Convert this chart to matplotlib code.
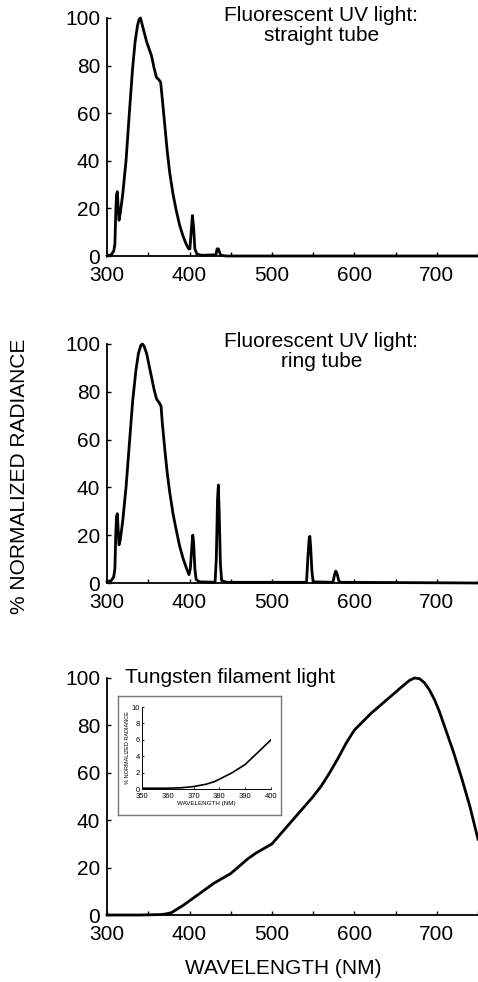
import matplotlib
matplotlib.use("Agg")
import matplotlib.pyplot as plt

plt.rcParams['font.family'] = ['Liberation Sans', 'DejaVu Sans']

# straight tube spectrum (nm, % radiance)
straight_nm = [300, 305, 308, 309.5, 310.5, 311.5, 312.5, 313.5, 314.5, 316, 319, 323,
               327, 331, 334, 337, 339, 340.5, 342, 345, 348, 351, 354, 357, 360,
               363, 365, 367, 370, 373, 376, 380, 384, 388, 392, 396, 399, 400.5,
               402, 403.5, 405, 406.5, 409, 415, 432, 433.5, 435, 436.5, 438, 445, 750]
straight_val = [0, 0.5, 2, 5, 18, 26, 27, 20, 15, 18, 26, 40,
                60, 79, 90, 97, 99.5, 100, 98, 94, 90, 87, 84, 79, 75,
                74, 73, 66, 55, 44, 35, 26, 19, 13, 8.5, 5, 3, 3,
                10, 17, 12, 3, 0.8, 0.3, 0.5, 3, 3, 1.5, 0.3, 0, 0]

# ring tube spectrum
ring_nm = [300, 305, 308, 309.5, 310.5, 311.5, 312.5, 313.5, 314.5, 316, 319, 323,
           327, 331, 335, 338, 341, 343, 345, 348, 351, 354, 357, 360, 362, 364,
           365.5, 367, 370, 373, 376, 380, 384, 388, 392, 396, 399.4, 401, 403,
           404, 405, 406.5, 408, 412, 431, 432.5, 434, 435, 436, 437.5, 439, 445,
           542, 543.5, 545, 546, 547, 548.5, 550, 574, 576, 577.5, 579, 581, 583, 750]
ring_val = [0.5, 1, 2.5, 6, 20, 28, 29, 22, 16, 18, 26, 40,
            58, 76, 89, 96, 99.5, 100, 99, 96, 91, 86, 81, 77, 76, 75,
            74, 67, 56, 46, 38, 29, 22, 15.5, 10.5, 6.5, 3.5, 6, 16,
            20, 17, 6, 1.5, 0.5, 0.3, 10, 35, 41, 30, 8, 1, 0.3,
            0.3, 10, 18, 19.5, 15, 5, 0.5, 0.3, 3.5, 5, 4, 1, 0.3, 0]

# tungsten filament spectrum
tung_nm = [300, 340, 365, 372, 378, 385, 392, 400, 410, 420, 430, 440, 450, 460,
           470, 480, 490, 500, 510, 520, 530, 540, 550, 560, 570, 580, 590, 600,
           610, 620, 630, 640, 650, 660, 667, 673, 679, 685, 691, 697, 703, 710,
           720, 730, 740, 750]
tung_val = [0, 0, 0.2, 0.5, 1, 2.5, 4, 6, 8.5, 11, 13.5, 15.5, 17.5, 20.5,
            23.5, 26, 28, 30, 34, 38, 42, 46, 50, 54.5, 60, 66, 72.5, 78,
            81.5, 85, 88, 91, 94, 97, 99, 100, 99.7, 98, 95, 91, 86, 79,
            69, 58, 46, 32]

# inset: tungsten 350-400 nm
inset_nm = [350, 355, 360, 365, 370, 375, 378, 380, 385, 390, 395, 400]
inset_val = [0.1, 0.1, 0.1, 0.15, 0.3, 0.6, 0.9, 1.2, 2.0, 3.0, 4.5, 6.0]

x_ticks = [300, 400, 500, 600, 700]
y_ticks = [0, 20, 40, 60, 80, 100]

fig = plt.figure(figsize=(4.78, 9.82), dpi=100)

panels = [
    ([0.224, 0.7393, 0.776, 0.2424], straight_nm, straight_val),
    ([0.224, 0.4063, 0.776, 0.2434], ring_nm, ring_val),
    ([0.224, 0.0682, 0.776, 0.2414], tung_nm, tung_val),
]

axes = []
for rect, xs, ys in panels:
    ax = fig.add_axes(rect)
    ax.plot(xs, ys, color='black', lw=2.0, clip_on=False, solid_joinstyle='round')
    ax.set_xlim(300, 750)
    ax.set_ylim(0, 100)
    ax.spines['top'].set_visible(False)
    ax.spines['right'].set_visible(False)
    ax.spines['left'].set_linewidth(1.3)
    ax.spines['bottom'].set_linewidth(1.3)
    ax.set_xticks(x_ticks)
    ax.set_xticks([350, 450, 550, 650, 750], minor=True)
    ax.set_yticks(y_ticks)
    ax.tick_params(axis='both', which='major', direction='in', length=3, width=1,
                   labelsize=15)
    ax.tick_params(axis='x', which='minor', direction='in', length=3, width=1)
    ax.tick_params(axis='x', which='major', pad=7)
    ax.tick_params(axis='y', which='major', pad=5)
    axes.append(ax)

axes[0].text(560, 105, 'Fluorescent UV light:\nstraight tube', ha='center', va='top',
             fontsize=15, linespacing=1.05)
axes[1].text(560, 105, 'Fluorescent UV light:\nring tube', ha='center', va='top',
             fontsize=15, linespacing=1.05)
axes[2].text(322, 100, 'Tungsten filament light', ha='left', va='center', fontsize=15)

fig.text(0.592, 1 - 968 / 982, 'WAVELENGTH (NM)', ha='center', va='center', fontsize=15)
fig.text(20 / 478, 1 - 476 / 982, '% NORMALIZED RADIANCE', ha='center', va='center',
         rotation=90, fontsize=15)

# inset frame
frame = fig.add_axes([0.247, 0.170, 0.341, 0.121])
frame.set_xticks([])
frame.set_yticks([])
for s in frame.spines.values():
    s.set_color('#777777')
    s.set_linewidth(1.0)
frame.patch.set_alpha(0)

ins = fig.add_axes([0.297, 0.1965, 0.270, 0.0835])
ins.plot(inset_nm, inset_val, color='black', lw=1.2)
ins.set_xlim(350, 400)
ins.set_ylim(0, 10)
ins.set_xticks([350, 360, 370, 380, 390, 400])
ins.set_yticks([0, 2, 4, 6, 8, 10])
ins.spines['top'].set_visible(False)
ins.spines['right'].set_visible(False)
ins.spines['left'].set_linewidth(0.7)
ins.spines['bottom'].set_linewidth(0.7)
ins.tick_params(direction='in', length=1.5, width=0.6, labelsize=5.5)
ins.tick_params(axis='x', pad=2.5)
ins.tick_params(axis='y', pad=1.5)
ins.set_xlabel('WAVELENGTH (NM)', fontsize=4.5, labelpad=1)
ins.set_ylabel('% NORMALIZED RADIANCE', fontsize=4, labelpad=1)

fig.savefig('out.png', dpi=100)
